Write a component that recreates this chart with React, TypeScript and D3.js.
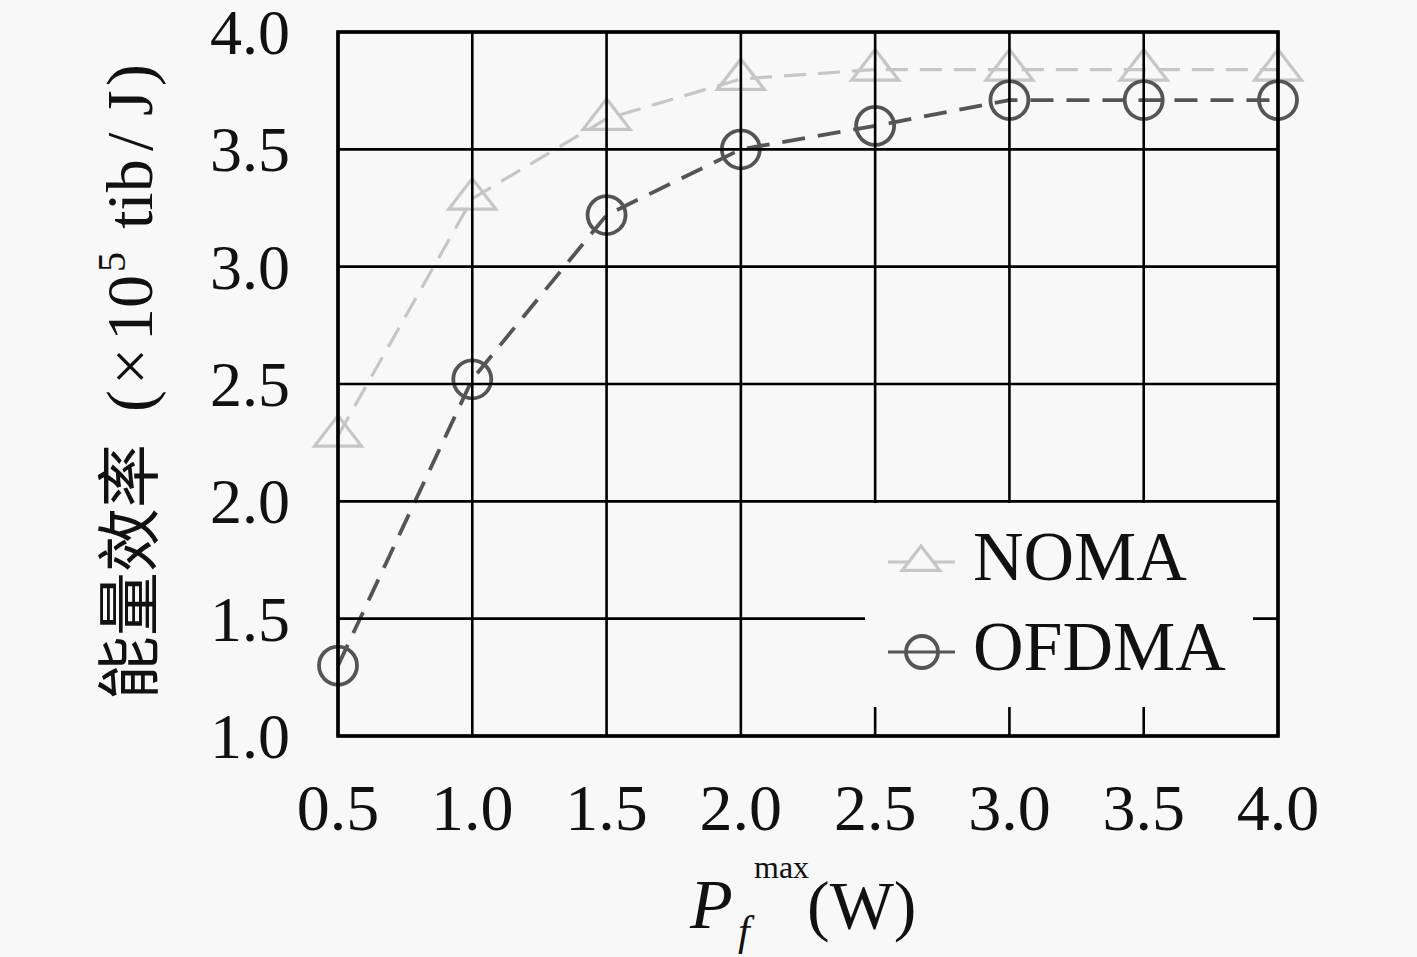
import React, { useEffect, useRef } from 'react';
import * as d3 from 'd3';

// x values: P_f^max (W)
const powers = [0.5, 1.0, 1.5, 2.0, 2.5, 3.0, 3.5, 4.0];
// energy efficiency (x10^5 tib/J)
const nomaValues = [2.28, 3.29, 3.63, 3.8, 3.84, 3.84, 3.84, 3.84];
const ofdmaValues = [1.3, 2.52, 3.22, 3.5, 3.6, 3.71, 3.71, 3.71];
const xTicks = [0.5, 1.0, 1.5, 2.0, 2.5, 3.0, 3.5, 4.0];
const yTicks = [1.0, 1.5, 2.0, 2.5, 3.0, 3.5, 4.0];
const seriesNames = ['NOMA', 'OFDMA'];

const WIDTH = 1417;
const HEIGHT = 957;
const BG = '#f8f8f8';
const NOMA_COLOR = '#c6c6c6';
const OFDMA_COLOR = '#555555';
const SERIF = '"Liberation Serif", "Times New Roman", serif';
const CJK = '"Noto Sans CJK SC", sans-serif';

const App: React.FC = () => {
  const svgRef = useRef<SVGSVGElement>(null);

  useEffect(() => {
    if (!svgRef.current) return;
    const root = d3.select(svgRef.current);
    root.selectAll('*').remove();

    const margin = { top: 32, right: 139, bottom: 221, left: 338 };
    const innerW = WIDTH - margin.left - margin.right;
    const innerH = HEIGHT - margin.top - margin.bottom;

    root.append('rect').attr('width', WIDTH).attr('height', HEIGHT).attr('fill', BG);

    const svg = root.append('g').attr('transform', `translate(${margin.left}, ${margin.top})`);

    const xScale = d3.scaleLinear().domain([0.5, 4.0]).range([0, innerW]);
    const yScale = d3.scaleLinear().domain([1.0, 4.0]).range([innerH, 0]);

    const line = d3
      .line<number>()
      .x((_, i) => xScale(powers[i]))
      .y((d) => yScale(d));

    const triangle = (s: number) => `M0,${-20 * s}L${23.5 * s},${10.5 * s}L${-23.5 * s},${10.5 * s}Z`;

    // NOMA series
    svg
      .append('path')
      .datum(nomaValues)
      .attr('fill', 'none')
      .attr('stroke', NOMA_COLOR)
      .attr('stroke-width', 3.2)
      .attr('stroke-dasharray', '22,12')
      .attr('d', line);

    svg
      .selectAll('.tri')
      .data(nomaValues)
      .enter()
      .append('path')
      .attr('transform', (d, i) => `translate(${xScale(powers[i])}, ${yScale(d)})`)
      .attr('d', triangle(1))
      .attr('fill', 'none')
      .attr('stroke', NOMA_COLOR)
      .attr('stroke-width', 3.2);

    // OFDMA series
    svg
      .append('path')
      .datum(ofdmaValues)
      .attr('fill', 'none')
      .attr('stroke', OFDMA_COLOR)
      .attr('stroke-width', 3.8)
      .attr('stroke-dasharray', '23,13')
      .attr('d', line);

    svg
      .selectAll('.circ')
      .data(ofdmaValues)
      .enter()
      .append('circle')
      .attr('cx', (_, i) => xScale(powers[i]))
      .attr('cy', (d) => yScale(d))
      .attr('r', 19)
      .attr('fill', 'none')
      .attr('stroke', OFDMA_COLOR)
      .attr('stroke-width', 3.8);

    // grid drawn above the data
    xTicks.forEach((t) => {
      svg
        .append('line')
        .attr('x1', xScale(t))
        .attr('x2', xScale(t))
        .attr('y1', 0)
        .attr('y2', innerH)
        .attr('stroke', '#000')
        .attr('stroke-width', 2.6);
    });
    yTicks.forEach((t) => {
      svg
        .append('line')
        .attr('x1', 0)
        .attr('x2', innerW)
        .attr('y1', yScale(t))
        .attr('y2', yScale(t))
        .attr('stroke', '#000')
        .attr('stroke-width', 2.6);
    });

    svg
      .append('rect')
      .attr('width', innerW)
      .attr('height', innerH)
      .attr('fill', 'none')
      .attr('stroke', '#000')
      .attr('stroke-width', 3.6);

    // tick labels
    svg
      .selectAll('.xlab')
      .data(xTicks)
      .enter()
      .append('text')
      .attr('x', (d) => xScale(d))
      .attr('y', innerH + 94)
      .attr('text-anchor', 'middle')
      .attr('font-family', SERIF)
      .attr('font-size', 66)
      .attr('fill', '#111')
      .text((d) => d.toFixed(1));

    svg
      .selectAll('.ylab')
      .data(yTicks)
      .enter()
      .append('text')
      .attr('x', -48)
      .attr('y', (d) => yScale(d) + 22)
      .attr('text-anchor', 'end')
      .attr('font-family', SERIF)
      .attr('font-size', 64)
      .attr('fill', '#111')
      .text((d) => d.toFixed(1));

    // legend
    const lg = svg.append('g').attr('transform', `translate(${865 - margin.left}, ${503 - margin.top})`);
    lg.append('rect').attr('width', 388).attr('height', 204).attr('fill', BG);

    const legendRows = [
      { name: seriesNames[0], color: NOMA_COLOR, dy: 59, marker: 'tri' },
      { name: seriesNames[1], color: OFDMA_COLOR, dy: 149, marker: 'circ' },
    ];
    legendRows.forEach((row) => {
      lg.append('line')
        .attr('x1', 23)
        .attr('x2', 90)
        .attr('y1', row.dy)
        .attr('y2', row.dy)
        .attr('stroke', row.color)
        .attr('stroke-width', 3.2);
      if (row.marker === 'tri') {
        lg.append('path')
          .attr('transform', `translate(56, ${row.dy})`)
          .attr('d', triangle(0.8))
          .attr('fill', BG)
          .attr('stroke', row.color)
          .attr('stroke-width', 3.2);
      } else {
        lg.append('circle')
          .attr('cx', 57)
          .attr('cy', row.dy)
          .attr('r', 16)
          .attr('fill', 'none')
          .attr('stroke', row.color)
          .attr('stroke-width', 3.8);
      }
      lg.append('text')
        .attr('x', 108)
        .attr('y', row.dy + 18)
        .attr('font-family', SERIF)
        .attr('font-size', 70)
        .attr('fill', '#111')
        .text(row.name);
    });

    // x axis label: P_f^max (W)
    const xl = root.append('g').attr('font-family', SERIF).attr('fill', '#111');
    xl.append('text').attr('x', 690).attr('y', 928).attr('font-size', 70).attr('font-style', 'italic').text('P');
    xl.append('text').attr('x', 754).attr('y', 878).attr('font-size', 32).text('max');
    xl.append('text').attr('x', 738).attr('y', 945).attr('font-size', 42).attr('font-style', 'italic').text('f');
    xl.append('text').attr('x', 807).attr('y', 928).attr('font-size', 68).text('(W)');

    // y axis label, rotated; pieces placed along the reading direction
    const yl = root
      .append('g')
      .attr('transform', 'translate(152, 0) rotate(-90)')
      .attr('fill', '#111');
    const yParts = [
      { t: '能量效率', at: 700, font: CJK, size: 64, dy: 0 },
      { t: '(', at: 412, font: SERIF, size: 66, dy: 0 },
      { t: '×', at: 385, font: SERIF, size: 66, dy: 0 },
      { t: '10', at: 341, font: SERIF, size: 66, dy: 0 },
      { t: '5', at: 272, font: SERIF, size: 40, dy: -27 },
      { t: 'tib', at: 229, font: SERIF, size: 66, dy: 0 },
      { t: '/', at: 151, font: SERIF, size: 66, dy: 0 },
      { t: 'J', at: 116, font: SERIF, size: 66, dy: 0 },
      { t: ')', at: 86, font: SERIF, size: 66, dy: 0 },
    ];
    yParts.forEach((p) => {
      yl.append('text')
        .attr('x', -p.at)
        .attr('y', p.dy)
        .attr('font-family', p.font)
        .attr('font-size', p.size)
        .text(p.t);
    });
  }, []);

  return (
    <svg
      ref={svgRef}
      width={WIDTH}
      height={HEIGHT}
      style={{ position: 'absolute', left: 0, top: 0 }}
    ></svg>
  );
};

export default App;
